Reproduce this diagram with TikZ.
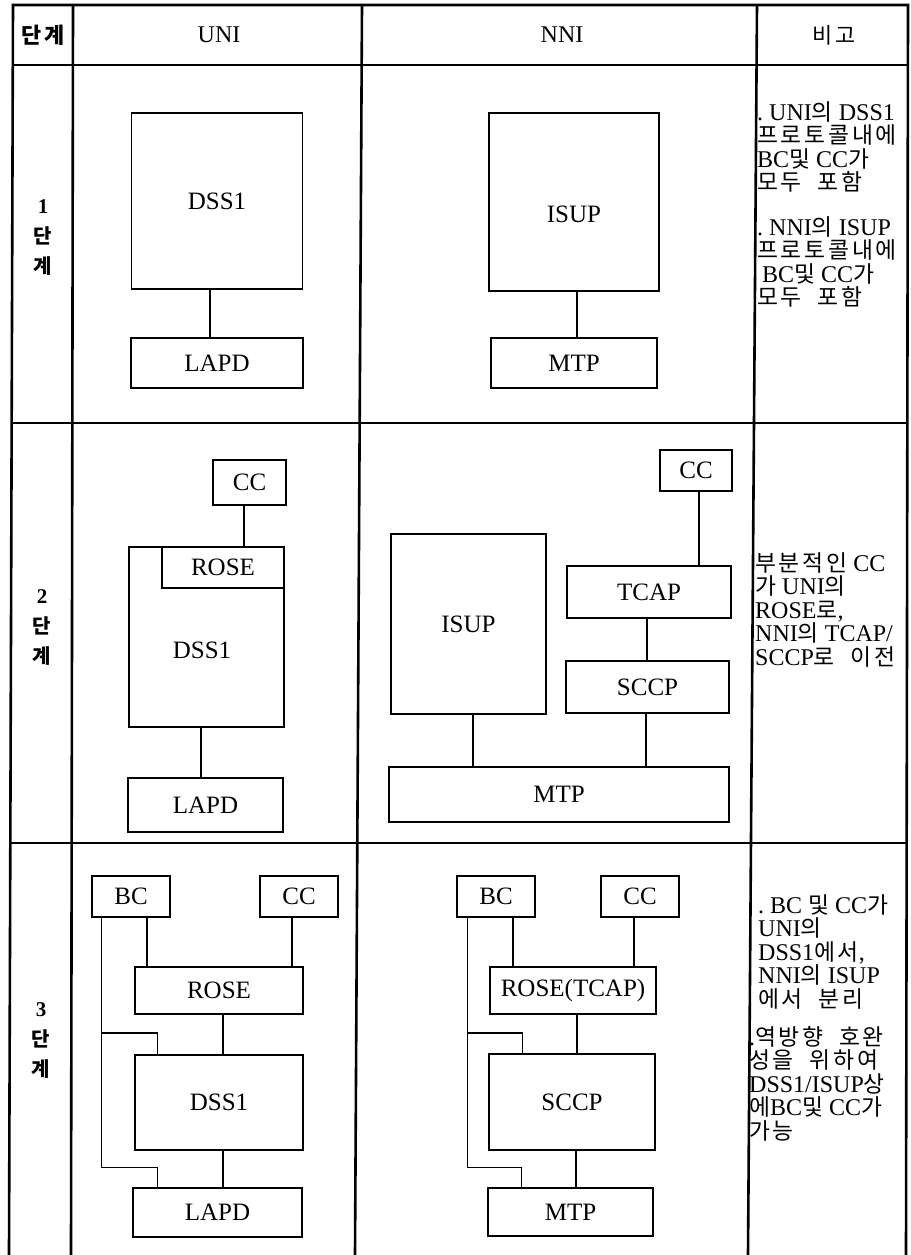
\documentclass[tikz,border=0pt]{standalone}
\usepackage{fontspec}
\setmainfont{Liberation Serif}
\newfontfamily\kr[WordSpace=2, LetterSpace=12, Scale=0.95]{Noto Sans CJK KR}
\usepackage{tikz}
\usetikzlibrary{positioning}

\newcommand{\hgl}[1]{{\kr #1}}
\newcommand{\boxfont}{\fontsize{25}{27}\selectfont}
\newcommand{\headfont}{\fontsize{24}{26}\selectfont}
\newcommand{\notefont}{\fontsize{24}{23.5}\selectfont}
\newcommand{\stagefont}{\fontsize{21}{30}\selectfont\bfseries}

\begin{document}
\begin{tikzpicture}[x=1pt, y=-1pt,
        blk/.style={draw, rectangle, line width=1.4pt, inner sep=0pt, font=\boxfont},
        lbl/.style={inner sep=0pt, font=\boxfont},
        link/.style={line width=1.4pt},
        rule/.style={line width=2.6pt},
        note/.style={anchor=north west, inner sep=0pt, align=left, font=\notefont},
        head/.style={inner sep=0pt, font=\headfont},
        stage/.style={inner sep=0pt, align=center, font=\stagefont}
    ]
    \useasboundingbox (0,0) rectangle (910,1255);

    % --- Table grid ---
    \draw[rule] (9,1255) -- (13,5) -- (908,5) -- (906,1255);
    \draw[rule] (73,5) -- (71,1255);
    \draw[rule] (362,5) -- (355,1255);
    \draw[rule] (757,5) -- (748,1255);
    \draw[rule] (13,65) -- (908,65);
    \draw[rule] (12,423) -- (907,423);
    \draw[rule] (10,843) -- (907,843);

    % --- Header ---
    \node[head, font=\fontsize{23}{24}\selectfont\bfseries] (hstage) at (43,35) {\hgl{단계}};
    \node[head] (huni) at (219,35) {UNI};
    \node[head] (hnni) at (562,35) {NNI};
    \node[head, font=\fontsize{23}{24}\selectfont] (hnote) at (834,35) {\hgl{비고}};

    % --- Row 1 ---
    \node[stage] (stage1) at (43,238) {1\\\hgl{단}\\\hgl{계}};
    \node[blk, minimum width=171pt, minimum height=176pt] (dss1) at (217,201) {DSS1};
    \node[blk, minimum width=172pt, minimum height=50pt] (lapd1) at (217,363) {LAPD};
    \node[blk, minimum width=170pt, minimum height=178pt] (isup1) at (574,202) {};
    \node[lbl] (isup1t) at (574,214) {ISUP};
    \node[blk, minimum width=166pt, minimum height=50pt] (mtp1) at (574,363) {MTP};
    \draw[link] ([xshift=-7pt]dss1.south) -- ([xshift=-7pt]lapd1.north);
    \draw[link] ([xshift=3pt]isup1.south) -- ([xshift=3pt]mtp1.north);

    \node[note] (note1a) at (757,101) {.\ UNI\hgl{의} DSS1\\\hgl{프로토콜내에}\\BC\hgl{및} CC\hgl{가}\\\hgl{모두 포함}};
    \node[note] (note1b) at (757,216) {.\ NNI\hgl{의} ISUP\\\hgl{프로토콜내에}\\\hspace{5pt}BC\hgl{및} CC\hgl{가}\\\hgl{모두 포함}};

    % --- Row 2 ---
    \node[stage] (stage2) at (42,627) {2\\\hgl{단}\\\hgl{계}};
    \node[blk, minimum width=73pt, minimum height=45pt] (ccu2) at (249.5,482.5) {CC};
    \node[blk, minimum width=155pt, minimum height=180pt] (dss2) at (206.5,637) {};
    \node[lbl] (dss2t) at (202,650) {DSS1};
    \node[blk, minimum width=122pt, minimum height=41pt] (roseu2) at (223,567.5) {ROSE};
    \node[blk, minimum width=155pt, minimum height=54pt] (lapd2) at (205.5,805) {LAPD};
    \draw[link] ([xshift=-5.5pt]ccu2.south) -- ([xshift=21pt]roseu2.north);
    \draw[link] ([xshift=-5.5pt]dss2.south) -- ([xshift=-4.5pt]lapd2.north);

    \node[blk, minimum width=72pt, minimum height=41pt] (ccn2) at (696,470.5) {CC};
    \node[blk, minimum width=164pt, minimum height=52pt] (tcap2) at (649,592) {TCAP};
    \node[blk, minimum width=163pt, minimum height=52pt] (sccp2) at (647.5,687) {SCCP};
    \node[blk, minimum width=155pt, minimum height=180pt] (isup2) at (468.5,624) {ISUP};
    \node[blk, minimum width=340pt, minimum height=55pt] (mtp2) at (559,794.5) {MTP};
    \draw[link] ([xshift=3pt]ccn2.south) -- ([xshift=50pt]tcap2.north);
    \draw[link] ([xshift=-2pt]tcap2.south) -- ([xshift=-0.5pt]sccp2.north);
    \draw[link] ([xshift=4.5pt]isup2.south) -- ([xshift=-86pt]mtp2.north);
    \draw[link] ([xshift=-1.5pt]sccp2.south) -- ([xshift=87pt]mtp2.north);

    \node[note] (note2) at (755,552) {\hgl{부분적인} CC\\\hgl{가} UNI\hgl{의}\\ROSE\hgl{로},\\NNI\hgl{의} TCAP/\\SCCP\hgl{로 이전}};

    % --- Row 3 ---
    \node[stage] (stage3) at (41,1040) {3\\\hgl{단}\\\hgl{계}};
    \node[blk, minimum width=78pt, minimum height=41pt] (bcu3) at (131,896.5) {BC};
    \node[blk, minimum width=78pt, minimum height=41pt] (ccu3) at (299,896.5) {CC};
    \node[blk, minimum width=168pt, minimum height=47pt] (roseu3) at (219,990.5) {ROSE};
    \node[blk, minimum width=168pt, minimum height=95pt] (dss3) at (219,1102.5) {DSS1};
    \node[blk, minimum width=169pt, minimum height=49pt] (lapd3) at (217.5,1212.5) {LAPD};
    \coordinate (tapu3) at (102,1033);
    \draw[link] ([xshift=16pt]bcu3.south) -- ([xshift=-72pt]roseu3.north);
    \draw[link] ([xshift=-7pt]ccu3.south) -- ([xshift=73pt]roseu3.north);
    \draw[link] ([xshift=4pt]roseu3.south) -- ([xshift=4pt]dss3.north);
    \draw[link] ([xshift=4pt]dss3.south) -- ([xshift=5.5pt]lapd3.north);
    \draw[link] ([xshift=10pt]bcu3.south west) |- ([yshift=20pt]lapd3.north west) -| ([xshift=25pt]lapd3.north west);
    \draw[link] (tapu3) -| ([xshift=23pt]dss3.north west);

    \node[blk, minimum width=78pt, minimum height=41pt] (bcn3) at (496,896.5) {BC};
    \node[blk, minimum width=78pt, minimum height=41pt] (ccn3) at (640,896.5) {CC};
    \node[blk, minimum width=166pt, minimum height=47pt] (rosen3) at (573,990.5) {ROSE(TCAP)};
    \node[blk, minimum width=166pt, minimum height=96pt] (sccp3) at (572,1102) {SCCP};
    \node[blk, minimum width=165pt, minimum height=48pt] (mtp3) at (570.5,1212) {MTP};
    \coordinate (tapn3) at (468,1033);
    \draw[link] ([xshift=17pt]bcn3.south) -- ([xshift=-60pt]rosen3.north);
    \draw[link] ([xshift=-6pt]ccn3.south) -- ([xshift=61pt]rosen3.north);
    \draw[link] ([xshift=4pt]rosen3.south) -- ([xshift=5pt]sccp3.north);
    \draw[link] ([xshift=4pt]sccp3.south) -- ([xshift=5.5pt]mtp3.north);
    \draw[link] ([xshift=11pt]bcn3.south west) |- ([yshift=20pt]mtp3.north west) -| ([xshift=34pt]mtp3.north west);
    \draw[link] (tapn3) -| ([xshift=34pt]sccp3.north west);

    \node[note] (note3a) at (758,894) {.\ BC \hgl{및} CC\hgl{가}\\UNI\hgl{의}\\DSS1\hgl{에서},\\NNI\hgl{의} ISUP\\\hgl{에서 분리}};
    \node[note] (note3b) at (749,1026) {.\hgl{역방향 호완}\\\hgl{성을 위하여}\\DSS1/ISUP\hgl{상}\\\hgl{에}BC\hgl{및} CC\hgl{가}\\\hgl{가능}};

\end{tikzpicture}
\end{document}
